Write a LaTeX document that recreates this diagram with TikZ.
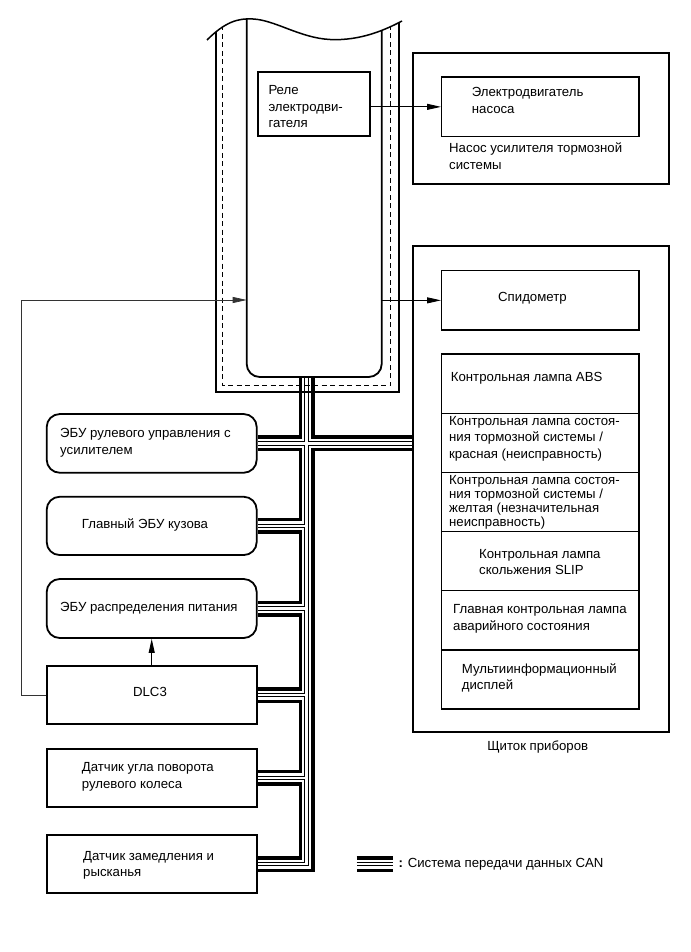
\documentclass[tikz,border=0pt]{standalone}
\usepackage{fontspec}
\setmainfont{Liberation Sans}
\usetikzlibrary{arrows.meta,calc,positioning,backgrounds}

\newcommand{\lbl}{\fontsize{13.2}{16.5}\selectfont}
\newcommand{\lbltight}{\fontsize{13.2}{14}\selectfont}

\tikzset{
  frame/.style={draw, line width=1.8pt, inner sep=0pt},
  inbox/.style={draw, line width=1.4pt, inner sep=0pt, minimum width=197.3pt},
  unit/.style={draw, line width=1.8pt, inner sep=0pt, minimum width=210pt},
  ecu/.style={unit, rounded corners=13pt},
  cell/.style={inbox, line width=1.3pt, minimum height=59.17pt},
  txt/.style={anchor=west, align=left, inner sep=0pt, font=\lbl},
  sig/.style={line width=0.9pt, -{Triangle[length=14pt,width=6pt]}},
  thinsig/.style={sig, line width=0.7pt, black!80},
  canbus/.style={draw, line width=16pt, line join=miter,
    postaction={draw, white, line width=9pt, line join=miter},
    postaction={draw, black, line width=4.4pt, line join=miter},
    postaction={draw, white, line width=2.2pt, line join=miter}},
}

\begin{document}
\begin{tikzpicture}[x=1pt,y=-1pt]
  \useasboundingbox (0,0) rectangle (690,952);

  % ECU (cut off at the top)
  \begin{scope}
    \clip (207,40) .. controls (225,22) and (238,18) .. (253,19)
      .. controls (275,20) and (300,38) .. (330,39.5)
      .. controls (360,41) and (385,30) .. (402,21) -- (402,400) -- (207,400) -- cycle;
    \draw[line width=1.8pt] (215.7,0) |- (399,392) -- (399,0);
    \draw[line width=1.2pt, dash pattern=on 5pt off 3.5pt] (222.7,0) |- (390.5,385.7) -- (390.5,0);
    \draw[line width=1.8pt, rounded corners=13pt] (246.7,0) |- (381.7,377) -- (381.7,0);
  \end{scope}
  \draw[line width=1.5pt] (207,40) .. controls (225,22) and (238,18) .. (253,19)
    .. controls (275,20) and (300,38) .. (330,39.5)
    .. controls (360,41) and (385,30) .. (402,21);
  \coordinate (trunk) at (306.5,377);
  \coordinate (ecuout) at (381.7,300.35);
  \coordinate (ecuin) at (246.7,300);

  \node[draw, line width=1.5pt, inner sep=0pt, minimum width=112pt, minimum height=64pt] (relay) at (314,104) {};
  \node[txt] (relaytxt) at (268.3,107) {Реле\\электродви-\\гателя};

  % pump
  \node[frame, minimum width=256.3pt, minimum height=131.3pt] (pump) at (540.85,118.35) {};
  \node[inbox, minimum height=59.7pt] (motor) at (540.35,106.85) {};
  \node[txt] (motortxt) at (471.7,100.5) {Электродвигатель\\насоса};
  \node[txt] (pumptxt) at (449,156) {Насос усилителя тормозной\\системы};

  % combination meter
  \node[frame, minimum width=256.3pt, minimum height=485.7pt] (cluster) at (540.85,488.85) {};
  \node[inbox, minimum height=59.3pt] (speedo) at (540.35,300.35) {};
  \node[txt] (speedotxt) at (498,298) {Спидометр};
  \foreach \name [count=\i] in {abs,redlamp,yellowlamp,slip,master,multi}
    \node[cell] (\name) at (540.35,{354+59.17*(\i-0.5)}) {};
  \node[txt] (abstxt) at (450.7,378) {Контрольная лампа ABS};
  \node[txt] (redtxt) at (449,438.5) {Контрольная лампа состоя-\\ния тормозной системы /\\красная (неисправность)};
  \node[txt, font=\lbltight] (yellowtxt) at (449,502) {Контрольная лампа состоя-\\ния тормозной системы /\\желтая (незначительная\\неисправность)};
  \node[txt] (sliptxt) at (479,562) {Контрольная лампа\\скольжения SLIP};
  \node[txt] (mastertxt) at (453,619) {Главная контрольная лампа\\аварийного состояния};
  \node[txt] (multitxt) at (461.7,678) {Мультиинформационный\\дисплей};
  \node[font=\lbl] (clustertxt) at (537.7,747) {Щиток приборов};

  % units on the CAN line
  \node[ecu, minimum height=58.7pt] (epsecu) at (151.7,443.4) {};
  \node[ecu, minimum height=58.3pt] (mainbody) at (151.7,525.9) {};
  \node[ecu, minimum height=59pt] (powerdist) at (151.7,608.5) {};
  \node[unit, minimum height=58pt] (dlc) at (151.7,695) {};
  \node[unit, minimum height=57.7pt] (steersens) at (151.7,777.9) {};
  \node[unit, minimum height=58pt] (yawsens) at (151.7,864) {};
  \node[txt] (epstxt) at (60,443) {ЭБУ рулевого управления с\\усилителем};
  \node[txt] (bodytxt) at (81.7,525) {Главный ЭБУ кузова};
  \node[txt] (powertxt) at (60,608) {ЭБУ распределения питания};
  \node[font=\lbl] (dlctxt) at (150,692) {DLC3};
  \node[txt] (steertxt) at (81.7,777) {Датчик угла поворота\\рулевого колеса};
  \node[txt] (yawtxt) at (83,865.5) {Датчик замедления и\\рысканья};

  % legend
  \coordinate (legA) at (356.7,864);
  \coordinate (legB) at (393.3,864);
  \node[txt, right=5pt of legB] (legtxt) {\textbf{:} Система передачи данных CAN};

  \draw[sig] (relay.east |- motor.west) -- (motor.west);
  \draw[sig] (ecuout) -- (speedo.west);
  \draw[sig] (dlc.north) -- (powerdist.south);
  \draw[thinsig] (dlc.west) -- ++(-24.4,0) |- (ecuin);

  \begin{scope}[on background layer]
    \path[canbus] (trunk) -- (trunk |- yawsens.east) -- (yawsens.east)
      (epsecu.east) -- (epsecu.east -| cluster.west)
      (mainbody.east) -- (trunk |- mainbody.east)
      (powerdist.east) -- (trunk |- powerdist.east)
      (dlc.east) -- (trunk |- dlc.east)
      (steersens.east) -- (trunk |- steersens.east)
      (legA) -- (legB);
  \end{scope}
\end{tikzpicture}
\end{document}
